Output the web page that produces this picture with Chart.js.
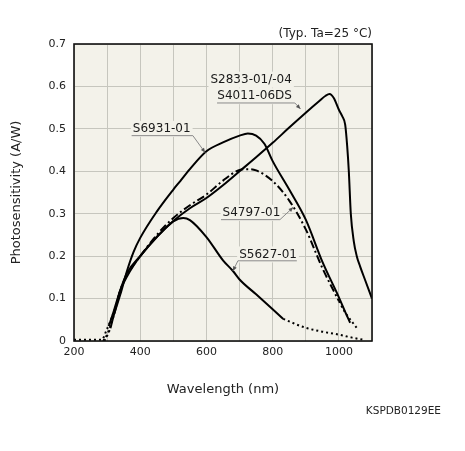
<!DOCTYPE html>
<html>
<head>
<meta charset="utf-8">
<script src="https://cdn.jsdelivr.net/npm/chart.js@4.4.1/dist/chart.umd.min.js"></script>
<style>
html,body{margin:0;padding:0;background:#fff;}
#wrap{width:465px;height:451px;}
</style>
</head>
<body>
<div id="wrap"><canvas id="c" width="465" height="451"></canvas></div>
<script>
// ---- data (wavelength nm, photosensitivity A/W) ----
const s2833Wl   = [305, 320, 340, 360, 380, 400, 450, 500, 550, 600, 650, 700, 750, 800, 850, 900, 940, 960, 972, 985, 1000, 1010, 1019, 1025, 1030, 1036, 1045, 1054, 1064, 1080, 1100];
const s2833Resp = [0.035, 0.07, 0.12, 0.152, 0.178, 0.2, 0.245, 0.283, 0.313, 0.337, 0.367, 0.400, 0.433, 0.467, 0.503, 0.538, 0.565, 0.578, 0.582, 0.572, 0.545, 0.53, 0.51, 0.46, 0.40, 0.30, 0.235, 0.2, 0.176, 0.142, 0.100];

const s6931Wl   = [310, 320, 340, 360, 380, 400, 450, 500, 521, 550, 600, 650, 700, 725, 750, 775, 800, 850, 900, 950, 1000, 1020, 1034];
const s6931Resp = [0.03, 0.06, 0.11, 0.165, 0.21, 0.243, 0.305, 0.357, 0.377, 0.405, 0.447, 0.468, 0.484, 0.489, 0.484, 0.465, 0.424, 0.357, 0.286, 0.187, 0.103, 0.067, 0.043];
const s6931StartWl   = [292, 300, 310];
const s6931StartResp = [0.0, 0.012, 0.03];

const s4797Wl   = [322, 340, 360, 400, 450, 500, 550, 600, 650, 700, 725, 750, 800, 850, 900, 950, 1000];
const s4797Resp = [0.065, 0.12, 0.155, 0.2, 0.25, 0.29, 0.32, 0.345, 0.378, 0.403, 0.405, 0.402, 0.377, 0.331, 0.263, 0.172, 0.094];
const s4797StartWl   = [288, 300, 312, 322];
const s4797StartResp = [0.0, 0.015, 0.04, 0.065];
const s4797EndWl   = [1000, 1020, 1040, 1058];
const s4797EndResp = [0.094, 0.066, 0.045, 0.027];

const s5627Wl   = [328, 340, 360, 400, 450, 500, 530, 550, 600, 650, 680, 700, 750, 800, 832];
const s5627Resp = [0.085, 0.12, 0.16, 0.2, 0.245, 0.282, 0.29, 0.285, 0.245, 0.19, 0.165, 0.145, 0.11, 0.075, 0.052];
const s5627StartWl   = [200, 240, 284, 298, 314, 328];
const s5627StartResp = [0.003, 0.003, 0.003, 0.025, 0.055, 0.085];
const s5627EndWl   = [832, 900, 950, 1000, 1040, 1073];
const s5627EndResp = [0.052, 0.031, 0.022, 0.015, 0.008, 0.003];

const xTickLabels = [200, 400, 600, 800, 1000];
const yTickLabels = ['0', '0.1', '0.2', '0.3', '0.4', '0.5', '0.6', '0.7'];

const curveLabels = ['S2833-01/-04', 'S4011-06DS', 'S6931-01', 'S4797-01', 'S5627-01'];

// ---- helpers ----
const pts = (xs, ys) => xs.map((x, i) => ({x: x, y: ys[i]}));
const FONT = '"DejaVu Sans", Verdana, sans-serif';
const PLOT_BG = '#f3f2ea';

function ds(data, dash) {
  return {
    data: data,
    borderColor: '#000',
    borderWidth: 2,
    borderDash: dash || [],
    pointRadius: 0,
    fill: false,
    tension: 0.4,
    cubicInterpolationMode: 'monotone',
    borderCapStyle: 'butt'
  };
}
const DOT = [2, 3];
const DASHDOT = [8, 3, 2, 3];

// label annotation layout (in data units)
const labelLayout = [
  {text: curveLabels[0], x: 858, y: 0.616, align: 'right'},
  {text: curveLabels[1], x: 858, y: 0.577, align: 'right',
   line: [[632, 0.561], [867, 0.561], [884, 0.547]]},
  {text: curveLabels[2], x: 465, y: 0.500, align: 'center',
   line: [[374, 0.484], [559, 0.484], [596, 0.444]]},
  {text: curveLabels[3], x: 736, y: 0.302, align: 'center',
   line: [[644, 0.286], [822, 0.286], [862, 0.315]]},
  {text: curveLabels[4], x: 786, y: 0.204, align: 'center',
   line: [[873, 0.189], [695, 0.189], [680, 0.165]]}
];

const decorPlugin = {
  id: 'decor',
  beforeDraw(chart) {
    const {ctx, chartArea: a} = chart;
    ctx.save();
    ctx.fillStyle = '#ffffff';
    ctx.fillRect(0, 0, chart.width, chart.height);
    ctx.fillStyle = PLOT_BG;
    ctx.fillRect(a.left, a.top, a.right - a.left, a.bottom - a.top);
    ctx.restore();
  },
  afterDatasetsDraw(chart) {
    const {ctx, chartArea: a, scales} = chart;
    const xs = scales.x, ys = scales.y;
    ctx.save();
    // labels
    ctx.font = '12px ' + FONT;
    ctx.textBaseline = 'middle';
    labelLayout.forEach(l => {
      const px = xs.getPixelForValue(l.x), py = ys.getPixelForValue(l.y);
      const w = ctx.measureText(l.text).width;
      let left = l.align === 'right' ? px - w : px - w / 2;
      ctx.fillStyle = PLOT_BG;
      ctx.fillRect(left - 2, py - 8, w + 4, 16);
    });
    labelLayout.forEach(l => {
      const px = xs.getPixelForValue(l.x), py = ys.getPixelForValue(l.y);
      ctx.fillStyle = '#1a1a1a';
      ctx.textAlign = l.align;
      ctx.fillText(l.text, px, py);
      if (l.line) {
        ctx.strokeStyle = '#8a8a8a';
        ctx.lineWidth = 1;
        ctx.beginPath();
        l.line.forEach((p, i) => {
          const X = xs.getPixelForValue(p[0]), Y = ys.getPixelForValue(p[1]);
          if (i === 0) ctx.moveTo(X, Y); else ctx.lineTo(X, Y);
        });
        ctx.stroke();
        // small arrowhead
        const n = l.line.length;
        const X1 = xs.getPixelForValue(l.line[n - 2][0]), Y1 = ys.getPixelForValue(l.line[n - 2][1]);
        const X2 = xs.getPixelForValue(l.line[n - 1][0]), Y2 = ys.getPixelForValue(l.line[n - 1][1]);
        const ang = Math.atan2(Y2 - Y1, X2 - X1);
        ctx.fillStyle = '#555';
        ctx.beginPath();
        ctx.moveTo(X2, Y2);
        ctx.lineTo(X2 - 5 * Math.cos(ang - 0.4), Y2 - 5 * Math.sin(ang - 0.4));
        ctx.lineTo(X2 - 5 * Math.cos(ang + 0.4), Y2 - 5 * Math.sin(ang + 0.4));
        ctx.closePath();
        ctx.fill();
      }
    });
    // frame
    ctx.strokeStyle = '#111';
    ctx.lineWidth = 1.6;
    ctx.strokeRect(a.left, a.top, a.right - a.left, a.bottom - a.top);
    // texts
    ctx.fillStyle = '#222';
    ctx.font = '12px ' + FONT;
    ctx.textAlign = 'right';
    ctx.textBaseline = 'middle';
    ctx.fillText('(Typ. Ta=25 \u00B0C)', a.right, 34);
    ctx.font = '13px ' + FONT;
    ctx.textAlign = 'center';
    ctx.fillText('Wavelength (nm)', (a.left + a.right) / 2, 390);
    ctx.font = '10.5px ' + FONT;
    ctx.textAlign = 'right';
    ctx.fillText('KSPDB0129EE', 441, 411);
    ctx.save();
    ctx.translate(17, (a.top + a.bottom) / 2);
    ctx.rotate(-Math.PI / 2);
    ctx.font = '13px ' + FONT;
    ctx.textAlign = 'center';
    ctx.fillText('Photosensitivity (A/W)', 0, 0);
    ctx.restore();
    ctx.restore();
  }
};

new Chart(document.getElementById('c'), {
  type: 'line',
  data: {
    datasets: [
      ds(pts(s2833Wl, s2833Resp)),
      ds(pts(s6931Wl, s6931Resp)),
      ds(pts(s6931StartWl, s6931StartResp), DOT),
      ds(pts(s4797Wl, s4797Resp), DASHDOT),
      ds(pts(s4797StartWl, s4797StartResp), DOT),
      ds(pts(s4797EndWl, s4797EndResp), DOT),
      ds(pts(s5627Wl, s5627Resp)),
      ds(pts(s5627StartWl, s5627StartResp), DOT),
      ds(pts(s5627EndWl, s5627EndResp), DOT)
    ]
  },
  options: {
    responsive: false,
    animation: false,
    devicePixelRatio: 1,
    layout: {padding: {top: 44, right: 93, left: 0, bottom: 0}},
    plugins: {legend: {display: false}, tooltip: {enabled: false}},
    scales: {
      x: {
        type: 'linear', min: 200, max: 1100,
        afterFit(s) { s.height = 110; },
        grid: {color: '#c6c6be', lineWidth: 1, drawTicks: false},
        border: {display: false},
        ticks: {
          stepSize: 100, padding: 5, color: '#222', autoSkip: false, maxRotation: 0,
          font: {family: FONT, size: 11},
          callback: v => xTickLabels.includes(v) ? String(v) : ''
        }
      },
      y: {
        type: 'linear', min: 0, max: 0.7,
        afterFit(s) { s.width = 74; },
        grid: {color: '#c6c6be', lineWidth: 1, drawTicks: false},
        border: {display: false},
        ticks: {
          stepSize: 0.1, padding: 8, color: '#222',
          font: {family: FONT, size: 11},
          callback: (v) => yTickLabels[Math.round(v * 10)]
        }
      }
    }
  },
  plugins: [decorPlugin]
});
</script>
</body>
</html>
